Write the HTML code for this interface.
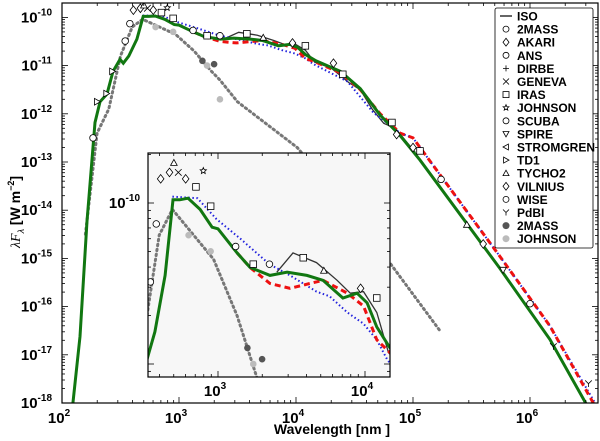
<!DOCTYPE html>
<html><head><meta charset="utf-8"><style>
html,body{margin:0;padding:0;background:#fff;overflow:hidden}
svg{display:block;font-family:"Liberation Sans",sans-serif}
</style></head><body>
<svg id="chart" width="600" height="441" viewBox="0 0 600 441"></svg>
<script>
// ---- data (log10 wavelength [nm], log10 lambda*F_lambda [W m^-2]) ----
const greenX=[2.085,2.154,2.214,2.282,2.325,2.385,2.436,2.496,2.524,2.571,2.64,2.694,2.74,2.796,2.878,2.96,3.0,3.13,3.218,3.354,3.47,3.605,3.714,3.85,3.946,4.014,4.08,4.17,4.38,4.55,4.72,4.89,5.06,5.74,6.17,6.51];
const greenY=[-18.2,-16.62,-14.23,-12.18,-11.75,-11.59,-11.12,-10.87,-10.95,-10.8,-10.45,-9.98,-9.98,-9.97,-10.04,-10.15,-10.16,-10.31,-10.4,-10.45,-10.43,-10.45,-10.48,-10.59,-10.56,-10.62,-10.77,-10.9,-11.12,-11.48,-12.03,-12.45,-12.96,-15.2,-16.68,-18.15];
const redX=[3.13,3.218,3.354,3.49,3.714,3.88,3.99,4.08,4.17,4.38,4.55,4.72,4.89,5.0,5.74,6.17,6.564];
const redY=[-10.31,-10.4,-10.5,-10.53,-10.48,-10.56,-10.64,-10.85,-10.93,-11.15,-11.5,-12.0,-12.4,-12.5,-14.95,-16.4,-18.1];
const blueX=[2.69,2.86,2.99,3.15,3.35,3.49,3.67,3.76,3.88,3.99,4.08,4.15,4.44,4.66,4.89,5.0,5.74,6.17,6.58];
const blueY=[-9.96,-9.97,-10.1,-10.22,-10.38,-10.45,-10.55,-10.58,-10.68,-10.75,-10.85,-10.97,-11.33,-11.97,-12.4,-12.5,-14.95,-16.4,-18.1];
const greyX=[2.2,2.3,2.4,2.5,2.6,2.69,2.97,3.13,3.27,3.35,3.5,4.01,4.5,5.23];
const greyY=[-14.5,-12.4,-11.9,-10.8,-10.2,-10.04,-10.35,-10.7,-11.1,-11.3,-11.75,-12.7,-14.1,-16.5];
const isoX=[3.4,3.51,3.67,3.81,3.9,3.99,4.08,4.16,4.3,4.45,4.55,4.65,4.75,4.85,4.95,5.02];
const isoY=[-10.43,-10.31,-10.37,-10.48,-10.56,-10.55,-10.68,-10.93,-11.05,-11.35,-11.5,-11.9,-12.2,-12.3,-12.6,-12.8];
const mkType=["c","tr","tr","tr","c","c","d","d","x","d","s","s","c","s","c","s","tu","d","s","d","s","s","d","d","s","c","tu","d","td","c","y","y","tu","st"];
const mkX=[2.265,2.3,2.38,2.43,2.54,2.58,2.61,2.67,2.73,2.78,2.85,2.95,3.12,3.24,3.35,3.58,3.72,3.97,4.08,4.32,4.4,4.82,4.86,5.0,5.06,5.24,5.46,5.6,5.77,6.0,6.2,6.5,2.7,2.9];
const mkY=[-12.5,-11.75,-11.58,-11.12,-10.49,-10.13,-9.85,-9.81,-9.81,-9.85,-9.9,-10.02,-10.27,-10.38,-10.38,-10.34,-10.42,-10.53,-10.59,-10.95,-11.18,-12.18,-12.43,-12.7,-12.77,-13.36,-14.3,-14.7,-15.24,-15.94,-16.83,-17.6,-9.75,-9.8];
const fdX=[3.2,3.3]; const fdY=[-10.9,-10.97];
const flX=[2.8,2.95,3.24,3.35]; const flY=[-10.2,-10.3,-11.0,-11.7];
const legendLabels=["ISO","2MASS","AKARI","ANS","DIRBE","GENEVA","IRAS","JOHNSON","SCUBA","SPIRE","STROMGREN","TD1","TYCHO2","VILNIUS","WISE","PdBI","2MASS","JOHNSON"];
const legendSyms=["line","c","d","c","p","x","s","st","c","td","tl","tr","tu","d","c","y","fd","fl"];
const xTickVals=[2,3,4,5,6];
const yTickVals=[-10,-11,-12,-13,-14,-15,-16,-17,-18];

// ---- axes ----
const M={x0:62,x1:598,y0:3,y1:403,lx0:2,lx1:2+(598-62)/117,ly1:-18,ly0:-18+400/48.2};
const I={x0:148,x1:390,y0:153,y1:377,lx0:3-70/147,lx1:3+172/147,ly0:-10+50/161,ly1:-10-174/161};
function sx(a,v){return a.x0+(v-a.lx0)/(a.lx1-a.lx0)*(a.x1-a.x0);}
function sy(a,v){return a.y1-(v-a.ly1)/(a.ly0-a.ly1)*(a.y1-a.y0);}
const NS="http://www.w3.org/2000/svg";
const svg=document.getElementById("chart");
function el(tag,at,parent){const e=document.createElementNS(NS,tag);for(const k in at)e.setAttribute(k,at[k]);(parent||svg).appendChild(e);return e;}

function drawLine(a,g,xs,ys,style,name){
  let d="";for(let i=0;i<xs.length;i++)d+=(i?"L":"M")+sx(a,xs[i]).toFixed(1)+","+sy(a,ys[i]).toFixed(1);
  const p=el("path",Object.assign({d:d,fill:"none"},style),g);
  
  
}
function marker(g,t,x,y,r){
  const st={fill:"#fff",stroke:"#000","stroke-width":0.8};let m;
  if(t==="c")m=el("circle",Object.assign({cx:x,cy:y,r:r},st),g);
  else if(t==="s")m=el("rect",Object.assign({x:x-r,y:y-r,width:2*r,height:2*r},st),g);
  else if(t==="d")m=el("polygon",Object.assign({points:`${x},${y-r*1.3} ${x+r},${y} ${x},${y+r*1.3} ${x-r},${y}`},st),g);
  else if(t==="tu")m=el("polygon",Object.assign({points:`${x},${y-r} ${x+r},${y+r*.8} ${x-r},${y+r*.8}`},st),g);
  else if(t==="td")m=el("polygon",Object.assign({points:`${x},${y+r} ${x+r},${y-r*.8} ${x-r},${y-r*.8}`},st),g);
  else if(t==="tr")m=el("polygon",Object.assign({points:`${x+r},${y} ${x-r*.8},${y-r} ${x-r*.8},${y+r}`},st),g);
  else if(t==="tl")m=el("polygon",Object.assign({points:`${x-r},${y} ${x+r*.8},${y-r} ${x+r*.8},${y+r}`},st),g);
  else if(t==="x")m=el("path",{d:`M${x-r},${y-r}L${x+r},${y+r}M${x-r},${y+r}L${x+r},${y-r}`,stroke:"#000","stroke-width":0.8},g);
  else if(t==="p")m=el("path",{d:`M${x-r},${y}L${x+r},${y}M${x},${y-r}L${x},${y+r}`,stroke:"#000","stroke-width":0.8},g);
  else if(t==="y")m=el("path",{d:`M${x},${y}L${x},${y+r}M${x},${y}L${x-r},${y-r}M${x},${y}L${x+r},${y-r}`,stroke:"#000","stroke-width":0.8,fill:"none"},g);
  else if(t==="st"){let pts="";for(let i=0;i<10;i++){const rr=i%2?r*.45:r;const an=-Math.PI/2+i*Math.PI/5;pts+=(x+rr*Math.cos(an)).toFixed(1)+","+(y+rr*Math.sin(an)).toFixed(1)+" ";}m=el("polygon",Object.assign({points:pts},st),g);}
  else if(t==="fd")m=el("circle",{cx:x,cy:y,r:r,fill:"#555"},g);
  else if(t==="fl")m=el("circle",{cx:x,cy:y,r:r,fill:"#bbb"},g);
  return m;
}
function drawSeries(a,g,r){
  drawLine(a,g,greyX,greyY,{stroke:"#777","stroke-width":3,"stroke-dasharray":"1.5,3.5","stroke-linecap":"round"},"photosphere-line");
  drawLine(a,g,isoX,isoY,{stroke:"#333","stroke-width":1.3},"iso-spectrum");
  drawLine(a,g,blueX,blueY,{stroke:"#2222dd","stroke-width":2,"stroke-dasharray":"1.5,2.5"},"blue-model-line");
  drawLine(a,g,redX,redY,{stroke:"#ee1111","stroke-width":3,"stroke-dasharray":"6,4"},"red-model-line");
  drawLine(a,g,greenX,greenY,{stroke:"#117711","stroke-width":3},"green-model-line");
  for(let i=0;i<fdX.length;i++){const m=marker(g,"fd",sx(a,fdX[i]),sy(a,fdY[i]),r);}
  for(let i=0;i<flX.length;i++){const m=marker(g,"fl",sx(a,flX[i]),sy(a,flY[i]),r);}
  for(let i=0;i<mkX.length;i++){
    if(mkX[i]<a.lx0||mkX[i]>a.lx1)continue;
    const m=marker(g,mkType[i],sx(a,mkX[i]),sy(a,mkY[i]),r);
    
    
  }
}
function ticks(a,g,ylo,yhi){
  const s={stroke:"#000","stroke-width":0.8};
  for(let d=Math.floor(a.lx0);d<=a.lx1;d++)for(let k=1;k<10;k++){const v=d+Math.log10(k);if(v<a.lx0||v>a.lx1)continue;const L=k===1?6:3;const x=sx(a,v);
    el("line",Object.assign({x1:x,x2:x,y1:a.y1,y2:a.y1-L},s),g);el("line",Object.assign({x1:x,x2:x,y1:a.y0,y2:a.y0+L},s),g);}
  for(let d=Math.floor(ylo);d<=yhi;d++)for(let k=1;k<10;k++){const v=d+Math.log10(k);if(v<a.ly1||v>a.ly0)continue;const L=k===1?6:3;const y=sy(a,v);
    el("line",Object.assign({y1:y,y2:y,x1:a.x0,x2:a.x0+L},s),g);el("line",Object.assign({y1:y,y2:y,x1:a.x1,x2:a.x1-L},s),g);}
}
function powLabel(g,x,y,exp,anchor,name){
  const t=el("text",{x:x,y:y,"font-size":15,"font-weight":"bold","text-anchor":anchor},g);
  
  
  const a=el("tspan",{},t);a.textContent="10";
  const b=el("tspan",{dy:-7,"font-size":10},t);b.textContent=String(exp);
}

// main plot
const gm=el("g",{});  
const cp=el("clipPath",{id:"cm"});el("rect",{x:M.x0,y:M.y0,width:M.x1-M.x0,height:M.y1-M.y0},cp);
const gmc=el("g",{"clip-path":"url(#cm)"},gm);
drawSeries(M,gmc,3.3);
ticks(M,gm,-18,-10);
el("rect",{x:M.x0,y:M.y0,width:M.x1-M.x0,height:M.y1-M.y0,fill:"none",stroke:"#000","stroke-width":1.2},gm);
for(const v of xTickVals)powLabel(gm,sx(M,v)-3,423,v,"middle","x-tick-label");
for(const v of yTickVals)powLabel(gm,52,sy(M,v)+5,v,"end","y-tick-label");

// inset
const gi=el("g",{});  
el("rect",{x:I.x0,y:I.y0,width:I.x1-I.x0,height:I.y1-I.y0,fill:"#f7f7f7"},gi);
const ci=el("clipPath",{id:"ci"});el("rect",{x:I.x0,y:I.y0,width:I.x1-I.x0,height:I.y1-I.y0},ci);
const gic=el("g",{"clip-path":"url(#ci)"},gi);
drawSeries(I,gic,3.3);
ticks(I,gi,-12,-9);
el("rect",{x:I.x0,y:I.y0,width:I.x1-I.x0,height:I.y1-I.y0,fill:"none",stroke:"#000","stroke-width":1.2},gi);
powLabel(gi,sx(I,3)-3,396,3,"middle","inset-x-tick-label");
powLabel(gi,sx(I,4)-3,396,4,"middle","inset-x-tick-label");
powLabel(gi,140,sy(I,-10)+5,-10,"end","inset-y-tick-label");

// legend
const gl=el("g",{});  
el("rect",{x:495,y:8,width:98,height:240,fill:"#fff",stroke:"#000","stroke-width":0.8,rx:2},gl);
for(let i=0;i<legendLabels.length;i++){
  const y=16+i*13.1;
  const ge=el("g",{},gl);
  
  
  if(legendSyms[i]==="line")el("line",{x1:500,x2:512,y1:y,y2:y,stroke:"#000","stroke-width":1.2},ge);
  else marker(ge,legendSyms[i],506,y,legendSyms[i].startsWith("f")?3.5:3);
  const t=el("text",{x:517,y:y+4.5,"font-size":12,"font-weight":"bold"},ge);t.textContent=legendLabels[i];
}

// axis titles
const xt=el("text",{x:332,y:434,"font-size":14,"font-weight":"bold","text-anchor":"middle"});

xt.textContent="Wavelength [nm ]";
const yt=el("text",{transform:"translate(20,212) rotate(-90)","font-size":14,"font-weight":"bold","text-anchor":"middle"});

const y1=el("tspan",{"font-style":"italic","font-weight":"normal","font-family":"Liberation Serif,serif"},yt);y1.textContent="λF";
const y2=el("tspan",{dy:4,"font-size":9,"font-style":"italic","font-weight":"normal"},yt);y2.textContent="λ";
const y3=el("tspan",{dy:-4},yt);y3.textContent=" [W  m";
const y4=el("tspan",{dy:-6,"font-size":9},yt);y4.textContent="−2";
const y5=el("tspan",{dy:6},yt);y5.textContent="]";
</script>
</body></html>
